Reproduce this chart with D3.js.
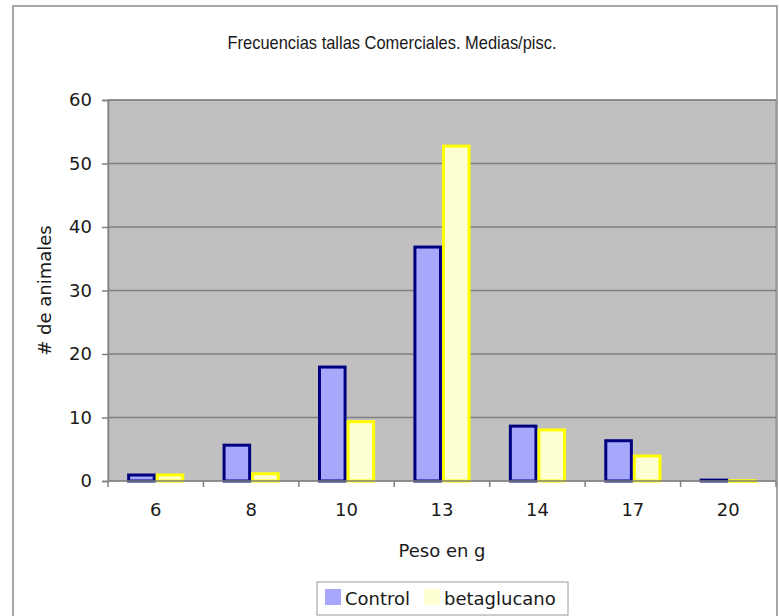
<!DOCTYPE html>
<meta charset="utf-8">
<style>
html, body {
  margin: 0;
  background: #fff;
}
svg {
  display: block;
  font-family: "DejaVu Sans", sans-serif;
}
.grid line {
  stroke: #808080;
  stroke-width: 1.5px;
}
.axis path, .axis line {
  stroke: #808080;
  stroke-width: 1.5px;
}
.axis text {
  font-family: "DejaVu Sans", sans-serif;
  font-size: 18px;
  fill: #1a1a1a;
}
</style>
<svg></svg>
<script src="https://d3js.org/d3.v7.min.js"></script>
<script>

// Datos
var categories = ['6', '8', '10', '13', '14', '17', '20'];
var control = [1.1, 5.8, 18.1, 37, 8.8, 6.5, 0.3];
var betaglucano = [1.1, 1.3, 9.5, 52.9, 8.2, 4.1, 0.2];
var seriesNames = ['Control', 'betaglucano'];
var yTicks = [0, 10, 20, 30, 40, 50, 60];

var colors = {
  Control: {fill: '#a7a7fb', stroke: '#000080'},
  betaglucano: {fill: '#ffffd4', stroke: '#ffff00'}
};

var W = 779, H = 616;
var margin = {left: 108, top: 100, right: 3, bottom: 135};
var width = W - margin.left - margin.right;
var height = H - margin.top - margin.bottom;

var svg = d3.select('svg')
  .attr('width', W)
  .attr('height', H);

// marco exterior
svg.append('rect')
  .attr('x', 13).attr('y', 6)
  .attr('width', 764).attr('height', 620)
  .attr('fill', '#fff')
  .attr('stroke', '#8a8a8a')
  .attr('stroke-width', 1.5);

svg.append('text')
  .attr('x', 392).attr('y', 49)
  .attr('text-anchor', 'middle')
  .attr('font-family', '"Liberation Sans", Arial, sans-serif')
  .attr('font-size', 19)
  .attr('textLength', 329)
  .attr('lengthAdjust', 'spacingAndGlyphs')
  .attr('fill', '#1a1a1a')
  .text('Frecuencias tallas Comerciales. Medias/pisc.');

var g = svg.append('g')
  .attr('transform', 'translate(' + margin.left + ',' + margin.top + ')');

var x = d3.scaleBand().domain(categories).range([0, width]);
var x1 = d3.scaleBand().domain(seriesNames).range([0, x.bandwidth()]).paddingOuter(0.67).paddingInner(0);
var y = d3.scaleLinear().domain([0, 60]).range([height, 0]);

g.append('rect')
  .attr('width', width).attr('height', height)
  .attr('fill', '#c0c0c0')
  .attr('stroke', '#8a8a8a')
  .attr('stroke-width', 1);

g.append('g')
  .attr('class', 'grid')
  .selectAll('line').data(yTicks.slice(1))
  .enter().append('line')
  .attr('x1', 0).attr('x2', width)
  .attr('y1', function (d) { return y(d); })
  .attr('y2', function (d) { return y(d); });

var rows = categories.map(function (c, i) {
  return {cat: c, values: [
    {name: 'Control', value: control[i]},
    {name: 'betaglucano', value: betaglucano[i]}
  ]};
});

g.append('g')
  .selectAll('g').data(rows)
  .enter().append('g')
  .attr('transform', function (d) { return 'translate(' + x(d.cat) + ',0)'; })
  .selectAll('rect').data(function (d) { return d.values; })
  .enter().append('rect')
  .attr('x', function (d) { return x1(d.name) + 1.5; })
  .attr('width', x1.bandwidth() - 3)
  .attr('y', function (d) { return y(d.value) + 1; })
  .attr('height', function (d) { return Math.max(0.6, height - y(d.value) - 1); })
  .attr('fill', function (d) { return colors[d.name].fill; })
  .attr('stroke', function (d) { return colors[d.name].stroke; })
  .attr('stroke-width', 3);

// ejes
g.append('g')
  .attr('class', 'axis')
  .call(d3.axisLeft(y).tickValues(yTicks).tickSize(6).tickPadding(10));

var xAxis = g.append('g')
  .attr('class', 'axis')
  .attr('transform', 'translate(0,' + height + ')')
  .call(d3.axisBottom(x).tickSize(0).tickPadding(22));

xAxis.select('.domain').attr('d', 'M0,0H' + width);

// marcas entre categorias
xAxis.selectAll('.sep')
  .data(categories.map(function (c) { return x(c); }).concat([width]))
  .enter().append('line')
  .attr('class', 'sep')
  .attr('x1', function (d) { return d; })
  .attr('x2', function (d) { return d; })
  .attr('y1', 0).attr('y2', 6);

svg.append('text')
  .attr('x', 442).attr('y', 557)
  .attr('text-anchor', 'middle')
  .attr('font-size', 18)
  .attr('fill', '#1a1a1a')
  .text('Peso en g');

svg.append('text')
  .attr('transform', 'translate(51,' + (margin.top + height / 2) + ') rotate(-90)')
  .attr('text-anchor', 'middle')
  .attr('font-size', 18)
  .attr('fill', '#1a1a1a')
  .text('# de animales');

// leyenda
var legend = svg.append('g').attr('transform', 'translate(317,582)');
legend.append('rect')
  .attr('width', 251).attr('height', 33)
  .attr('fill', '#fff')
  .attr('stroke', '#9a9a9a')
  .attr('stroke-width', 1);

var legendX = [8, 107];
seriesNames.forEach(function (name, i) {
  legend.append('rect')
    .attr('x', legendX[i]).attr('y', 7)
    .attr('width', 16).attr('height', 16)
    .attr('fill', colors[name].fill);
  legend.append('text')
    .attr('x', legendX[i] + 20).attr('y', 23)
    .attr('font-size', 18)
    .attr('fill', '#1a1a1a')
    .text(name);
});

</script>
